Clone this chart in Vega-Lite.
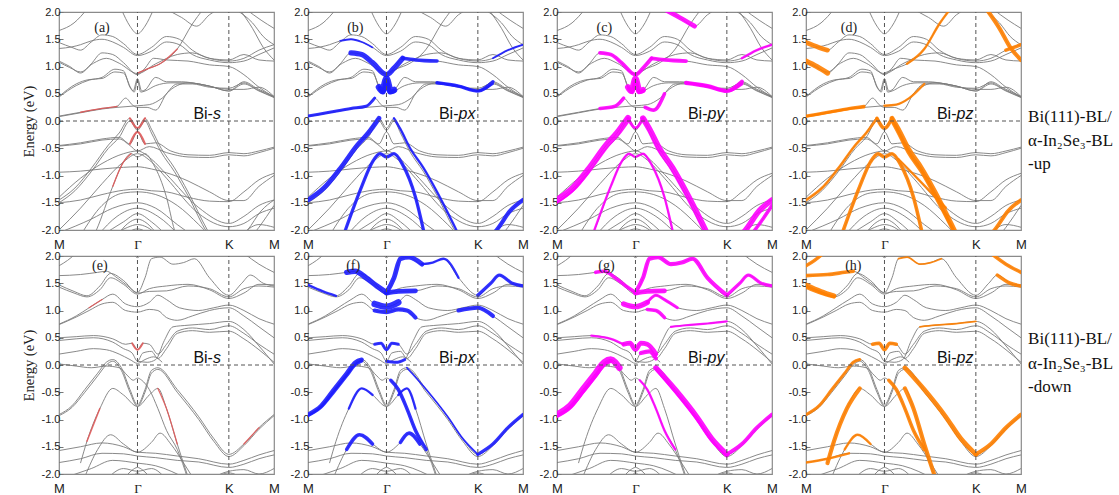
{
"$schema":"https://vega.github.io/schema/vega-lite/v6.json",
"background":"white",
"padding":{"left":20,"top":5,"right":0,"bottom":0},
"config":{
 "view":{"stroke":"#8a8a8a","strokeWidth":1.2},
 "axisX":{"title":null,"grid":false,"ticks":false,"domain":false,"labelFlush":false,"labelOverlap":false,"labelFont":{"condition":{"test":"datum.value==0.365","value":"Liberation Serif"},"value":"Liberation Sans"},"labelFontSize":13,"labelColor":"#222","labelPadding":8},
 "axisY":{"grid":false,"domain":false,"tickSize":-4,"tickColor":"#777","labelOverlap":false,"tickCount":9,"labelFont":"Liberation Sans","labelFontSize":11,"labelColor":"#222","labelPadding":3,"labelExpr":"replace(datum.label,'−','-')","titleFont":"Liberation Serif","titleFontSize":14.5,"titleFontWeight":"normal","titleColor":"#222","titlePadding":5}
},
"datasets":{
"G":[{"k":0.365},{"k":0.79}],
"U":[
{"b":"c1","k":0.29,"E":2.05},{"b":"c1","k":0.33,"E":1.74},{"b":"c1","k":0.365,"E":1.6},{"b":"c1","k":0.4,"E":1.74},{"b":"c1","k":0.44,"E":2.05},
{"b":"c2","k":0,"E":1.66},{"b":"c2","k":0.07,"E":1.8},{"b":"c2","k":0.13,"E":2.05},
{"b":"c3","k":0,"E":1.44},{"b":"c3","k":0.06,"E":1.35},{"b":"c3","k":0.1,"E":1.3},{"b":"c3","k":0.15,"E":1.45},{"b":"c3","k":0.2,"E":1.58},{"b":"c3","k":0.25,"E":1.55},{"b":"c3","k":0.3,"E":1.42},{"b":"c3","k":0.365,"E":1.22},{"b":"c3","k":0.43,"E":1.35},{"b":"c3","k":0.5,"E":1.55},{"b":"c3","k":0.56,"E":1.5},{"b":"c3","k":0.62,"E":1.3},{"b":"c3","k":0.7,"E":1.15},{"b":"c3","k":0.79,"E":1.1},{"b":"c3","k":0.86,"E":1.15},{"b":"c3","k":0.93,"E":1.3},{"b":"c3","k":1,"E":1.4},
{"b":"c4","k":0,"E":1.33},{"b":"c4","k":0.06,"E":1.36},{"b":"c4","k":0.1,"E":1.4},{"b":"c4","k":0.15,"E":1.47},{"b":"c4","k":0.2,"E":1.5},{"b":"c4","k":0.25,"E":1.45},{"b":"c4","k":0.3,"E":1.35},{"b":"c4","k":0.365,"E":1.2},{"b":"c4","k":0.43,"E":1.28},{"b":"c4","k":0.5,"E":1.45},{"b":"c4","k":0.56,"E":1.4},{"b":"c4","k":0.62,"E":1.22},{"b":"c4","k":0.7,"E":1.12},{"b":"c4","k":0.79,"E":1.07},{"b":"c4","k":0.86,"E":1.1},{"b":"c4","k":0.93,"E":1.22},{"b":"c4","k":1,"E":1.34},
{"b":"c5","k":0,"E":1.1},{"b":"c5","k":0.05,"E":1.0},{"b":"c5","k":0.1,"E":0.88},{"b":"c5","k":0.15,"E":1.05},{"b":"c5","k":0.2,"E":1.25},{"b":"c5","k":0.25,"E":1.22},{"b":"c5","k":0.3,"E":1.07},{"b":"c5","k":0.365,"E":0.85},{"b":"c5","k":0.4,"E":0.97},{"b":"c5","k":0.44,"E":1.15},{"b":"c5","k":0.5,"E":1.12},{"b":"c5","k":0.6,"E":1.1},{"b":"c5","k":0.7,"E":1.03},{"b":"c5","k":0.79,"E":1.0},{"b":"c5","k":0.86,"E":0.85},{"b":"c5","k":0.93,"E":0.62},{"b":"c5","k":1,"E":0.44},
{"b":"c6","k":0,"E":1.08},{"b":"c6","k":0.05,"E":0.98},{"b":"c6","k":0.1,"E":0.9},{"b":"c6","k":0.16,"E":1.06},{"b":"c6","k":0.22,"E":1.15},{"b":"c6","k":0.28,"E":1.06},{"b":"c6","k":0.365,"E":0.87},{"b":"c6","k":0.45,"E":1.05},{"b":"c6","k":0.55,"E":1.22},{"b":"c6","k":0.62,"E":1.25},{"b":"c6","k":0.7,"E":1.15},{"b":"c6","k":0.79,"E":1.12},{"b":"c6","k":0.86,"E":1.22},{"b":"c6","k":0.93,"E":1.12},{"b":"c6","k":1,"E":1.1},
{"b":"c7","k":0.365,"E":0.88},{"b":"c7","k":0.42,"E":0.97},{"b":"c7","k":0.47,"E":1.05},{"b":"c7","k":0.55,"E":1.32},{"b":"c7","k":0.62,"E":1.78},{"b":"c7","k":0.67,"E":2.05},
{"b":"c8","k":0.5,"E":2.05},{"b":"c8","k":0.57,"E":1.9},{"b":"c8","k":0.64,"E":1.74},{"b":"c8","k":0.7,"E":1.95},{"b":"c8","k":0.74,"E":2.05},
{"b":"c9","k":0,"E":0.44},{"b":"c9","k":0.08,"E":0.65},{"b":"c9","k":0.14,"E":0.75},{"b":"c9","k":0.2,"E":0.8},{"b":"c9","k":0.26,"E":0.95},{"b":"c9","k":0.3,"E":0.92},{"b":"c9","k":0.33,"E":0.62},{"b":"c9","k":0.345,"E":0.55},{"b":"c9","k":0.365,"E":0.78},{"b":"c9","k":0.385,"E":0.55},{"b":"c9","k":0.4,"E":0.57},{"b":"c9","k":0.45,"E":0.8},{"b":"c9","k":0.5,"E":0.72},{"b":"c9","k":0.57,"E":0.72},{"b":"c9","k":0.65,"E":0.68},{"b":"c9","k":0.79,"E":0.58},{"b":"c9","k":0.86,"E":0.58},{"b":"c9","k":0.93,"E":0.62},{"b":"c9","k":1,"E":0.45},
{"b":"c10","k":0,"E":0.45},{"b":"c10","k":0.08,"E":0.68},{"b":"c10","k":0.14,"E":0.76},{"b":"c10","k":0.2,"E":0.78},{"b":"c10","k":0.26,"E":0.9},{"b":"c10","k":0.3,"E":0.88},{"b":"c10","k":0.335,"E":0.6},{"b":"c10","k":0.35,"E":0.53},{"b":"c10","k":0.365,"E":0.75},{"b":"c10","k":0.38,"E":0.53},{"b":"c10","k":0.4,"E":0.55},{"b":"c10","k":0.45,"E":0.65},{"b":"c10","k":0.52,"E":0.7},{"b":"c10","k":0.6,"E":0.7},{"b":"c10","k":0.7,"E":0.64},{"b":"c10","k":0.79,"E":0.55},{"b":"c10","k":0.86,"E":0.68},{"b":"c10","k":0.93,"E":0.55},{"b":"c10","k":1,"E":0.43},
{"b":"c11","k":0,"E":0.09},{"b":"c11","k":0.1,"E":0.16},{"b":"c11","k":0.2,"E":0.23},{"b":"c11","k":0.27,"E":0.27},{"b":"c11","k":0.31,"E":0.42},{"b":"c11","k":0.34,"E":0.3},{"b":"c11","k":0.365,"E":0.25},{"b":"c11","k":0.41,"E":0.25},{"b":"c11","k":0.45,"E":0.2},{"b":"c11","k":0.5,"E":0.5},{"b":"c11","k":0.55,"E":0.65},{"b":"c11","k":0.6,"E":0.7},{"b":"c11","k":0.7,"E":0.64},{"b":"c11","k":0.79,"E":0.55},{"b":"c11","k":0.86,"E":0.72},{"b":"c11","k":0.92,"E":0.6},{"b":"c11","k":1,"E":0.45},
{"b":"c12","k":0,"E":0.08},{"b":"c12","k":0.1,"E":0.15},{"b":"c12","k":0.2,"E":0.22},{"b":"c12","k":0.27,"E":0.25},{"b":"c12","k":0.365,"E":0.28},{"b":"c12","k":0.42,"E":0.3},{"b":"c12","k":0.48,"E":0.42},{"b":"c12","k":0.55,"E":0.68},{"b":"c12","k":0.62,"E":0.68},{"b":"c12","k":0.7,"E":0.62},{"b":"c12","k":0.79,"E":0.6},{"b":"c12","k":0.86,"E":0.7},{"b":"c12","k":0.92,"E":0.58},{"b":"c12","k":1,"E":0.44},
{"b":"c13","k":0.82,"E":2.05},{"b":"c13","k":0.9,"E":1.8},{"b":"c13","k":0.95,"E":1.55},{"b":"c13","k":1,"E":1.4},
{"b":"c14","k":0.84,"E":2.05},{"b":"c14","k":0.9,"E":1.7},{"b":"c14","k":0.95,"E":1.35},{"b":"c14","k":1,"E":1.12},
{"b":"c15","k":0.87,"E":2.05},{"b":"c15","k":0.94,"E":1.85},{"b":"c15","k":1,"E":1.7},
{"b":"v1","k":0,"E":-1.45},{"b":"v1","k":0.074,"E":-1.23},{"b":"v1","k":0.15,"E":-0.87},{"b":"v1","k":0.23,"E":-0.44},{"b":"v1","k":0.28,"E":-0.22},{"b":"v1","k":0.33,"E":0.05},{"b":"v1","k":0.365,"E":-0.13},{"b":"v1","k":0.4,"E":0.05},{"b":"v1","k":0.43,"E":-0.15},{"b":"v1","k":0.475,"E":-0.5},{"b":"v1","k":0.537,"E":-0.86},{"b":"v1","k":0.6,"E":-1.3},{"b":"v1","k":0.69,"E":-2.0},{"b":"v1","k":0.72,"E":-2.2},
{"b":"v1b","k":0,"E":-1.5},{"b":"v1b","k":0.074,"E":-1.28},{"b":"v1b","k":0.15,"E":-0.93},{"b":"v1b","k":0.23,"E":-0.5},{"b":"v1b","k":0.28,"E":-0.3},{"b":"v1b","k":0.33,"E":0.0},{"b":"v1b","k":0.365,"E":-0.17},{"b":"v1b","k":0.4,"E":0.0},{"b":"v1b","k":0.43,"E":-0.22},{"b":"v1b","k":0.475,"E":-0.57},{"b":"v1b","k":0.537,"E":-0.93},{"b":"v1b","k":0.6,"E":-1.37},{"b":"v1b","k":0.69,"E":-2.05},{"b":"v1b","k":0.72,"E":-2.2},
{"b":"v2","k":0,"E":-0.45},{"b":"v2","k":0.1,"E":-0.4},{"b":"v2","k":0.2,"E":-0.33},{"b":"v2","k":0.28,"E":-0.3},{"b":"v2","k":0.33,"E":-0.42},{"b":"v2","k":0.365,"E":-0.2},{"b":"v2","k":0.4,"E":-0.42},{"b":"v2","k":0.45,"E":-0.4},{"b":"v2","k":0.52,"E":-0.55},{"b":"v2","k":0.6,"E":-0.62},{"b":"v2","k":0.7,"E":-0.63},{"b":"v2","k":0.79,"E":-0.58},{"b":"v2","k":0.86,"E":-0.6},{"b":"v2","k":0.93,"E":-0.55},{"b":"v2","k":1,"E":-0.48},
{"b":"v3","k":0,"E":-0.46},{"b":"v3","k":0.1,"E":-0.42},{"b":"v3","k":0.2,"E":-0.35},{"b":"v3","k":0.28,"E":-0.33},{"b":"v3","k":0.33,"E":-0.45},{"b":"v3","k":0.365,"E":-0.55},{"b":"v3","k":0.42,"E":-0.47},{"b":"v3","k":0.5,"E":-0.58},{"b":"v3","k":0.6,"E":-0.66},{"b":"v3","k":0.7,"E":-0.67},{"b":"v3","k":0.79,"E":-0.62},{"b":"v3","k":0.86,"E":-0.64},{"b":"v3","k":0.93,"E":-0.58},{"b":"v3","k":1,"E":-0.5},
{"b":"v4","k":0,"E":-1.4},{"b":"v4","k":0.1,"E":-1.05},{"b":"v4","k":0.2,"E":-0.78},{"b":"v4","k":0.3,"E":-0.6},{"b":"v4","k":0.365,"E":-0.55},{"b":"v4","k":0.43,"E":-0.7},{"b":"v4","k":0.5,"E":-0.98},{"b":"v4","k":0.65,"E":-1.59},{"b":"v4","k":0.79,"E":-1.88},{"b":"v4","k":0.86,"E":-1.75},{"b":"v4","k":0.93,"E":-1.55},{"b":"v4","k":1,"E":-1.45},
{"b":"v5","k":0,"E":-2.0},{"b":"v5","k":0.1,"E":-1.6},{"b":"v5","k":0.2,"E":-1.15},{"b":"v5","k":0.3,"E":-0.75},{"b":"v5","k":0.365,"E":-0.6},{"b":"v5","k":0.43,"E":-0.75},{"b":"v5","k":0.5,"E":-1.05},{"b":"v5","k":0.65,"E":-1.7},{"b":"v5","k":0.79,"E":-1.94},{"b":"v5","k":0.86,"E":-1.88},{"b":"v5","k":0.93,"E":-1.7},{"b":"v5","k":1,"E":-1.6},
{"b":"v6","k":0,"E":-0.94},{"b":"v6","k":0.1,"E":-0.92},{"b":"v6","k":0.2,"E":-0.88},{"b":"v6","k":0.3,"E":-0.85},{"b":"v6","k":0.365,"E":-0.84},{"b":"v6","k":0.43,"E":-0.88},{"b":"v6","k":0.5,"E":-0.95},{"b":"v6","k":0.6,"E":-1.1},{"b":"v6","k":0.7,"E":-1.3},{"b":"v6","k":0.79,"E":-1.46},{"b":"v6","k":0.86,"E":-1.46},{"b":"v6","k":0.93,"E":-1.2},{"b":"v6","k":1,"E":-1.0},
{"b":"v7","k":0,"E":-1.5},{"b":"v7","k":0.1,"E":-1.45},{"b":"v7","k":0.2,"E":-1.35},{"b":"v7","k":0.3,"E":-1.27},{"b":"v7","k":0.365,"E":-1.25},{"b":"v7","k":0.43,"E":-1.28},{"b":"v7","k":0.5,"E":-1.3},{"b":"v7","k":0.6,"E":-1.4},{"b":"v7","k":0.7,"E":-1.47},{"b":"v7","k":0.79,"E":-1.48},{"b":"v7","k":0.86,"E":-1.3},{"b":"v7","k":0.93,"E":-1.08},{"b":"v7","k":1,"E":-0.96},
{"b":"v8","k":0,"E":-2.05},{"b":"v8","k":0.15,"E":-1.8},{"b":"v8","k":0.25,"E":-1.6},{"b":"v8","k":0.365,"E":-1.5},{"b":"v8","k":0.45,"E":-1.6},{"b":"v8","k":0.55,"E":-1.9},{"b":"v8","k":0.62,"E":-2.1},
{"b":"v9","k":0.2,"E":-2.1},{"b":"v9","k":0.3,"E":-1.85},{"b":"v9","k":0.365,"E":-1.7},{"b":"v9","k":0.43,"E":-1.85},{"b":"v9","k":0.5,"E":-2.1},
{"b":"v10","k":0.25,"E":-2.1},{"b":"v10","k":0.32,"E":-1.95},{"b":"v10","k":0.365,"E":-1.9},{"b":"v10","k":0.41,"E":-1.95},{"b":"v10","k":0.46,"E":-2.1},
{"b":"v11","k":0.1,"E":-2.1},{"b":"v11","k":0.2,"E":-1.55},{"b":"v11","k":0.3,"E":-1.32},{"b":"v11","k":0.365,"E":-1.3},{"b":"v11","k":0.45,"E":-1.35},{"b":"v11","k":0.55,"E":-1.55},{"b":"v11","k":0.65,"E":-1.9},{"b":"v11","k":0.7,"E":-2.1},
{"b":"v12","k":0.15,"E":-2.2},{"b":"v12","k":0.174,"E":-2.0},{"b":"v12","k":0.25,"E":-1.2},{"b":"v12","k":0.3,"E":-0.75},{"b":"v12","k":0.335,"E":-0.6},{"b":"v12","k":0.365,"E":-0.66},{"b":"v12","k":0.4,"E":-0.6},{"b":"v12","k":0.44,"E":-0.8},{"b":"v12","k":0.5,"E":-1.4},{"b":"v12","k":0.537,"E":-2.0},{"b":"v12","k":0.55,"E":-2.15},
{"b":"v13","k":0.82,"E":-2.2},{"b":"v13","k":0.877,"E":-2.0},{"b":"v13","k":0.94,"E":-1.65},{"b":"v13","k":1,"E":-1.45},
{"b":"v14","k":0.88,"E":-2.2},{"b":"v14","k":0.93,"E":-1.95},{"b":"v14","k":1,"E":-1.55},
{"b":"v15","k":0.86,"E":-2.05},{"b":"v15","k":0.93,"E":-1.9},{"b":"v15","k":1,"E":-1.95},
{"b":"v16","k":0.27,"E":-2.1},{"b":"v16","k":0.32,"E":-1.88},{"b":"v16","k":0.365,"E":-1.8},{"b":"v16","k":0.41,"E":-1.88},{"b":"v16","k":0.46,"E":-2.1},
{"b":"v17","k":0.3,"E":-2.1},{"b":"v17","k":0.365,"E":-1.98},{"b":"v17","k":0.43,"E":-2.1},
{"b":"v18","k":0.18,"E":-2.1},{"b":"v18","k":0.27,"E":-1.75},{"b":"v18","k":0.365,"E":-1.6},{"b":"v18","k":0.46,"E":-1.75},{"b":"v18","k":0.56,"E":-2.1}
],
"D":[
{"b":"dc0","k":0.34,"E":2.08},{"b":"dc0","k":0.365,"E":1.97},{"b":"dc0","k":0.39,"E":2.08},
{"b":"dc1","k":0,"E":1.82},{"b":"dc1","k":0.04,"E":1.92},{"b":"dc1","k":0.08,"E":2.05},
{"b":"dc2","k":0,"E":1.64},{"b":"dc2","k":0.1,"E":1.66},{"b":"dc2","k":0.18,"E":1.7},{"b":"dc2","k":0.22,"E":1.72},{"b":"dc2","k":0.27,"E":1.6},{"b":"dc2","k":0.32,"E":1.45},{"b":"dc2","k":0.365,"E":1.33},{"b":"dc2","k":0.4,"E":1.6},{"b":"dc2","k":0.43,"E":1.95},{"b":"dc2","k":0.47,"E":1.98},{"b":"dc2","k":0.53,"E":1.85},{"b":"dc2","k":0.58,"E":1.88},{"b":"dc2","k":0.63,"E":1.95},{"b":"dc2","k":0.7,"E":1.6},{"b":"dc2","k":0.79,"E":1.28},{"b":"dc2","k":0.85,"E":1.5},{"b":"dc2","k":0.89,"E":1.65},{"b":"dc2","k":0.95,"E":1.5},{"b":"dc2","k":1,"E":1.45},
{"b":"dc3","k":0,"E":1.47},{"b":"dc3","k":0.07,"E":1.35},{"b":"dc3","k":0.13,"E":1.27},{"b":"dc3","k":0.19,"E":1.45},{"b":"dc3","k":0.24,"E":1.68},{"b":"dc3","k":0.3,"E":1.55},{"b":"dc3","k":0.365,"E":1.32},{"b":"dc3","k":0.42,"E":1.35},{"b":"dc3","k":0.5,"E":1.36},{"b":"dc3","k":0.6,"E":1.45},{"b":"dc3","k":0.7,"E":1.4},{"b":"dc3","k":0.79,"E":1.25},{"b":"dc3","k":0.86,"E":1.4},{"b":"dc3","k":0.93,"E":1.45},{"b":"dc3","k":1,"E":1.43},
{"b":"dc4","k":0,"E":1.43},{"b":"dc4","k":0.07,"E":1.32},{"b":"dc4","k":0.13,"E":1.25},{"b":"dc4","k":0.19,"E":1.38},{"b":"dc4","k":0.24,"E":1.6},{"b":"dc4","k":0.3,"E":1.48},{"b":"dc4","k":0.365,"E":1.3},{"b":"dc4","k":0.42,"E":1.4},{"b":"dc4","k":0.5,"E":1.45},{"b":"dc4","k":0.6,"E":1.48},{"b":"dc4","k":0.7,"E":1.38},{"b":"dc4","k":0.79,"E":1.22},{"b":"dc4","k":0.86,"E":1.32},{"b":"dc4","k":0.93,"E":1.48},{"b":"dc4","k":1,"E":1.47},
{"b":"dc5","k":0,"E":0.75},{"b":"dc5","k":0.08,"E":0.9},{"b":"dc5","k":0.14,"E":1.05},{"b":"dc5","k":0.2,"E":1.2},{"b":"dc5","k":0.25,"E":1.3},{"b":"dc5","k":0.31,"E":1.12},{"b":"dc5","k":0.365,"E":1.07},{"b":"dc5","k":0.42,"E":1.15},{"b":"dc5","k":0.46,"E":1.28},{"b":"dc5","k":0.5,"E":1.2},{"b":"dc5","k":0.56,"E":1.05},{"b":"dc5","k":0.65,"E":1.0},{"b":"dc5","k":0.72,"E":1.05},{"b":"dc5","k":0.79,"E":1.1},{"b":"dc5","k":0.86,"E":1.0},{"b":"dc5","k":0.93,"E":0.85},{"b":"dc5","k":1,"E":0.75},
{"b":"dc6","k":0,"E":0.74},{"b":"dc6","k":0.08,"E":0.88},{"b":"dc6","k":0.14,"E":1.0},{"b":"dc6","k":0.2,"E":1.12},{"b":"dc6","k":0.25,"E":1.15},{"b":"dc6","k":0.31,"E":1.0},{"b":"dc6","k":0.365,"E":0.97},{"b":"dc6","k":0.42,"E":1.02},{"b":"dc6","k":0.46,"E":1.0},{"b":"dc6","k":0.5,"E":0.87},{"b":"dc6","k":0.55,"E":0.82},{"b":"dc6","k":0.62,"E":0.9},{"b":"dc6","k":0.7,"E":1.0},{"b":"dc6","k":0.79,"E":1.05},{"b":"dc6","k":0.86,"E":0.9},{"b":"dc6","k":0.93,"E":0.7},{"b":"dc6","k":1,"E":0.5},
{"b":"dc7","k":0.365,"E":0.07},{"b":"dc7","k":0.41,"E":0.05},{"b":"dc7","k":0.45,"E":0.1},{"b":"dc7","k":0.49,"E":0.45},{"b":"dc7","k":0.53,"E":0.7},{"b":"dc7","k":0.6,"E":0.73},{"b":"dc7","k":0.7,"E":0.76},{"b":"dc7","k":0.79,"E":0.8},{"b":"dc7","k":0.86,"E":0.65},{"b":"dc7","k":0.93,"E":0.35},{"b":"dc7","k":1,"E":0.02},
{"b":"dc8","k":0,"E":0.5},{"b":"dc8","k":0.08,"E":0.52},{"b":"dc8","k":0.16,"E":0.54},{"b":"dc8","k":0.25,"E":0.48},{"b":"dc8","k":0.31,"E":0.38},{"b":"dc8","k":0.34,"E":0.4},{"b":"dc8","k":0.365,"E":0.28},{"b":"dc8","k":0.39,"E":0.4},{"b":"dc8","k":0.42,"E":0.38},{"b":"dc8","k":0.46,"E":0.2},{"b":"dc8","k":0.5,"E":0.38},{"b":"dc8","k":0.55,"E":0.62},{"b":"dc8","k":0.62,"E":0.68},{"b":"dc8","k":0.7,"E":0.65},{"b":"dc8","k":0.79,"E":0.72},{"b":"dc8","k":0.86,"E":0.58},{"b":"dc8","k":0.93,"E":0.38},{"b":"dc8","k":1,"E":0.2},
{"b":"dc9","k":0,"E":0.45},{"b":"dc9","k":0.08,"E":0.48},{"b":"dc9","k":0.16,"E":0.5},{"b":"dc9","k":0.25,"E":0.42},{"b":"dc9","k":0.3,"E":0.3},{"b":"dc9","k":0.34,"E":0.22},{"b":"dc9","k":0.365,"E":0.07},{"b":"dc9","k":0.39,"E":0.22},{"b":"dc9","k":0.43,"E":0.25},{"b":"dc9","k":0.46,"E":0.12},{"b":"dc9","k":0.5,"E":0.3},{"b":"dc9","k":0.55,"E":0.58},{"b":"dc9","k":0.62,"E":0.63},{"b":"dc9","k":0.7,"E":0.6},{"b":"dc9","k":0.79,"E":0.62},{"b":"dc9","k":0.86,"E":0.48},{"b":"dc9","k":0.93,"E":0.28},{"b":"dc9","k":1,"E":0.05},
{"b":"dc10","k":0,"E":0.2},{"b":"dc10","k":0.08,"E":0.25},{"b":"dc10","k":0.16,"E":0.3},{"b":"dc10","k":0.22,"E":0.28},{"b":"dc10","k":0.28,"E":0.2},{"b":"dc10","k":0.33,"E":0.1},{"b":"dc10","k":0.365,"E":0.03},{"b":"dc10","k":0.4,"E":0.1},{"b":"dc10","k":0.44,"E":0.15},{"b":"dc10","k":0.48,"E":0.05},
{"b":"dc12","k":0.86,"E":2.05},{"b":"dc12","k":0.93,"E":1.85},{"b":"dc12","k":1,"E":1.7},
{"b":"dv1","k":0,"E":-0.91},{"b":"dv1","k":0.06,"E":-0.75},{"b":"dv1","k":0.12,"E":-0.45},{"b":"dv1","k":0.18,"E":-0.15},{"b":"dv1","k":0.22,"E":0.05},{"b":"dv1","k":0.25,"E":0.1},{"b":"dv1","k":0.29,"E":-0.05},{"b":"dv1","k":0.33,"E":-0.45},{"b":"dv1","k":0.365,"E":-0.73},{"b":"dv1","k":0.4,"E":-0.45},{"b":"dv1","k":0.43,"E":-0.1},{"b":"dv1","k":0.46,"E":-0.05},{"b":"dv1","k":0.55,"E":-0.45},{"b":"dv1","k":0.65,"E":-0.95},{"b":"dv1","k":0.72,"E":-1.35},{"b":"dv1","k":0.79,"E":-1.64},{"b":"dv1","k":0.86,"E":-1.45},{"b":"dv1","k":0.93,"E":-1.15},{"b":"dv1","k":1,"E":-0.91},
{"b":"dv2","k":0,"E":-0.93},{"b":"dv2","k":0.06,"E":-0.78},{"b":"dv2","k":0.12,"E":-0.5},{"b":"dv2","k":0.18,"E":-0.2},{"b":"dv2","k":0.22,"E":0.0},{"b":"dv2","k":0.25,"E":0.07},{"b":"dv2","k":0.29,"E":-0.1},{"b":"dv2","k":0.33,"E":-0.5},{"b":"dv2","k":0.365,"E":-0.76},{"b":"dv2","k":0.4,"E":-0.5},{"b":"dv2","k":0.43,"E":-0.15},{"b":"dv2","k":0.46,"E":-0.08},{"b":"dv2","k":0.55,"E":-0.5},{"b":"dv2","k":0.65,"E":-1.0},{"b":"dv2","k":0.72,"E":-1.4},{"b":"dv2","k":0.79,"E":-1.68},{"b":"dv2","k":0.86,"E":-1.48},{"b":"dv2","k":0.93,"E":-1.18},{"b":"dv2","k":1,"E":-0.93},
{"b":"dv3","k":0,"E":0.02},{"b":"dv3","k":0.08,"E":-0.02},{"b":"dv3","k":0.15,"E":-0.05},{"b":"dv3","k":0.22,"E":-0.02},{"b":"dv3","k":0.28,"E":-0.05},{"b":"dv3","k":0.32,"E":-0.2},{"b":"dv3","k":0.345,"E":-0.28},{"b":"dv3","k":0.365,"E":-0.24},{"b":"dv3","k":0.385,"E":-0.28},{"b":"dv3","k":0.42,"E":-0.45},{"b":"dv3","k":0.46,"E":-0.8},{"b":"dv3","k":0.5,"E":-1.2},{"b":"dv3","k":0.55,"E":-1.55},{"b":"dv3","k":0.6,"E":-2.1},
{"b":"dv5","k":0.1,"E":-1.8},{"b":"dv5","k":0.13,"E":-1.4},{"b":"dv5","k":0.19,"E":-0.8},{"b":"dv5","k":0.25,"E":-0.43},{"b":"dv5","k":0.3,"E":-0.55},{"b":"dv5","k":0.365,"E":-0.76},{"b":"dv5","k":0.42,"E":-0.55},{"b":"dv5","k":0.46,"E":-0.43},{"b":"dv5","k":0.5,"E":-0.8},{"b":"dv5","k":0.55,"E":-1.45},{"b":"dv5","k":0.6,"E":-2.05},
{"b":"dv6","k":0.12,"E":-2.05},{"b":"dv6","k":0.18,"E":-1.55},{"b":"dv6","k":0.24,"E":-1.28},{"b":"dv6","k":0.3,"E":-1.45},{"b":"dv6","k":0.365,"E":-1.6},{"b":"dv6","k":0.43,"E":-1.42},{"b":"dv6","k":0.47,"E":-1.25},{"b":"dv6","k":0.52,"E":-1.45},{"b":"dv6","k":0.58,"E":-1.8},{"b":"dv6","k":0.62,"E":-2.05},
{"b":"dv7","k":0,"E":-1.57},{"b":"dv7","k":0.1,"E":-1.5},{"b":"dv7","k":0.2,"E":-1.43},{"b":"dv7","k":0.3,"E":-1.5},{"b":"dv7","k":0.365,"E":-1.6},{"b":"dv7","k":0.45,"E":-1.62},{"b":"dv7","k":0.55,"E":-1.67},{"b":"dv7","k":0.65,"E":-1.72},{"b":"dv7","k":0.79,"E":-1.82},{"b":"dv7","k":0.86,"E":-1.75},{"b":"dv7","k":0.93,"E":-1.65},{"b":"dv7","k":1,"E":-1.57},
{"b":"dv8","k":0,"E":-1.79},{"b":"dv8","k":0.1,"E":-1.72},{"b":"dv8","k":0.2,"E":-1.62},{"b":"dv8","k":0.3,"E":-1.63},{"b":"dv8","k":0.365,"E":-1.67},{"b":"dv8","k":0.45,"E":-1.7},{"b":"dv8","k":0.55,"E":-1.75},{"b":"dv8","k":0.65,"E":-1.78},{"b":"dv8","k":0.79,"E":-1.88},{"b":"dv8","k":0.86,"E":-1.82},{"b":"dv8","k":0.93,"E":-1.72},{"b":"dv8","k":1,"E":-1.65},
{"b":"dv9","k":0,"E":-2.1},{"b":"dv9","k":0.15,"E":-1.9},{"b":"dv9","k":0.25,"E":-1.75},{"b":"dv9","k":0.365,"E":-1.8},{"b":"dv9","k":0.45,"E":-1.85},{"b":"dv9","k":0.6,"E":-2.1},
{"b":"dv10","k":0.22,"E":-2.1},{"b":"dv10","k":0.3,"E":-1.9},{"b":"dv10","k":0.365,"E":-1.95},{"b":"dv10","k":0.43,"E":-1.9},{"b":"dv10","k":0.5,"E":-2.1},
{"b":"dv11","k":0.7,"E":-2.1},{"b":"dv11","k":0.79,"E":-1.95},{"b":"dv11","k":0.86,"E":-1.92},{"b":"dv11","k":0.93,"E":-2.0},{"b":"dv11","k":1,"E":-1.9},
{"b":"dv12","k":0.72,"E":-2.1},{"b":"dv12","k":0.79,"E":-1.98},{"b":"dv12","k":0.86,"E":-2.1},
{"b":"dv13","k":0.3,"E":-2.1},{"b":"dv13","k":0.34,"E":-1.93},{"b":"dv13","k":0.365,"E":-1.88},{"b":"dv13","k":0.39,"E":-1.93},{"b":"dv13","k":0.43,"E":-2.1},
{"b":"dv14","k":0.345,"E":-2.1},{"b":"dv14","k":0.365,"E":-1.97},{"b":"dv14","k":0.385,"E":-2.1}
],
"PU":[
{"o":"s","g":"s1","w":0.25,"k":0.33,"E":0.05},{"o":"s","g":"s1","w":0.25,"k":0.365,"E":-0.13},{"o":"s","g":"s1","w":0.25,"k":0.4,"E":0.05},
{"o":"s","g":"s2","w":0.25,"k":0.33,"E":-0.42},{"o":"s","g":"s2","w":0.25,"k":0.365,"E":-0.2},{"o":"s","g":"s2","w":0.25,"k":0.4,"E":-0.42},
{"o":"s","g":"s3","w":0.12,"k":0.365,"E":0.88},{"o":"s","g":"s3","w":0.12,"k":0.42,"E":0.97},{"o":"s","g":"s3","w":0.12,"k":0.47,"E":1.05},{"o":"s","g":"s3","w":0.12,"k":0.55,"E":1.32},
{"o":"s","g":"s4","w":0.12,"k":0.1,"E":0.16},{"o":"s","g":"s4","w":0.12,"k":0.2,"E":0.23},{"o":"s","g":"s4","w":0.12,"k":0.27,"E":0.27},
{"o":"s","g":"s5","w":0.12,"k":0.25,"E":-1.2},{"o":"s","g":"s5","w":0.12,"k":0.3,"E":-0.75},{"o":"s","g":"s5","w":0.12,"k":0.335,"E":-0.6},
{"o":"x","g":"x1","w":0.8,"k":0.2,"E":1.25},{"o":"x","g":"x1","w":0.8,"k":0.25,"E":1.22},{"o":"x","g":"x1","w":0.8,"k":0.3,"E":1.07},{"o":"x","g":"x1","w":0.8,"k":0.365,"E":0.85},{"o":"x","g":"x1","w":0.8,"k":0.4,"E":0.97},{"o":"x","g":"x1","w":0.8,"k":0.44,"E":1.15},
{"o":"x","g":"x2","w":1,"k":0.33,"E":0.62},{"o":"x","g":"x2","w":1,"k":0.345,"E":0.55},{"o":"x","g":"x2","w":1,"k":0.365,"E":0.78},{"o":"x","g":"x2","w":1,"k":0.385,"E":0.55},{"o":"x","g":"x2","w":1,"k":0.4,"E":0.57},
{"o":"x","g":"x3","w":0.7,"k":0.335,"E":0.6},{"o":"x","g":"x3","w":0.7,"k":0.35,"E":0.53},{"o":"x","g":"x3","w":0.7,"k":0.365,"E":0.75},{"o":"x","g":"x3","w":0.7,"k":0.38,"E":0.53},{"o":"x","g":"x3","w":0.7,"k":0.4,"E":0.55},
{"o":"x","g":"x4","w":0.4,"k":0,"E":0.09},{"o":"x","g":"x4","w":0.4,"k":0.1,"E":0.16},{"o":"x","g":"x4","w":0.4,"k":0.2,"E":0.23},{"o":"x","g":"x4","w":0.4,"k":0.27,"E":0.27},{"o":"x","g":"x4","w":0.4,"k":0.31,"E":0.42},
{"o":"x","g":"x5","w":0.7,"k":0,"E":-1.45},{"o":"x","g":"x5","w":0.7,"k":0.074,"E":-1.23},{"o":"x","g":"x5","w":0.7,"k":0.15,"E":-0.87},{"o":"x","g":"x5","w":0.7,"k":0.23,"E":-0.44},{"o":"x","g":"x5","w":0.7,"k":0.28,"E":-0.22},{"o":"x","g":"x5","w":0.7,"k":0.33,"E":0.05},
{"o":"x","g":"x6","w":0.3,"k":0.4,"E":0.05},{"o":"x","g":"x6","w":0.3,"k":0.43,"E":-0.15},{"o":"x","g":"x6","w":0.3,"k":0.475,"E":-0.5},{"o":"x","g":"x6","w":0.3,"k":0.537,"E":-0.86},{"o":"x","g":"x6","w":0.3,"k":0.6,"E":-1.3},{"o":"x","g":"x6","w":0.3,"k":0.69,"E":-2.0},
{"o":"x","g":"x7","w":0.45,"k":0.174,"E":-2.0},{"o":"x","g":"x7","w":0.45,"k":0.25,"E":-1.2},{"o":"x","g":"x7","w":0.45,"k":0.3,"E":-0.75},{"o":"x","g":"x7","w":0.45,"k":0.335,"E":-0.6},{"o":"x","g":"x7","w":0.45,"k":0.365,"E":-0.66},{"o":"x","g":"x7","w":0.45,"k":0.4,"E":-0.6},{"o":"x","g":"x7","w":0.45,"k":0.44,"E":-0.8},{"o":"x","g":"x7","w":0.45,"k":0.5,"E":-1.4},{"o":"x","g":"x7","w":0.45,"k":0.537,"E":-2.0},
{"o":"x","g":"x8","w":0.5,"k":0.6,"E":0.7},{"o":"x","g":"x8","w":0.5,"k":0.7,"E":0.64},{"o":"x","g":"x8","w":0.5,"k":0.79,"E":0.55},{"o":"x","g":"x8","w":0.5,"k":0.86,"E":0.72},
{"o":"x","g":"x9","w":0.6,"k":0.82,"E":-2.2},{"o":"x","g":"x9","w":0.6,"k":0.877,"E":-2.0},{"o":"x","g":"x9","w":0.6,"k":0.94,"E":-1.65},{"o":"x","g":"x9","w":0.6,"k":1,"E":-1.45},
{"o":"x","g":"x10","w":0.2,"k":0.86,"E":1.15},{"o":"x","g":"x10","w":0.2,"k":0.93,"E":1.3},{"o":"x","g":"x10","w":0.2,"k":1,"E":1.4},
{"o":"x","g":"x11","w":0.5,"k":0.44,"E":1.15},{"o":"x","g":"x11","w":0.5,"k":0.5,"E":1.12},{"o":"x","g":"x11","w":0.5,"k":0.6,"E":1.1},
{"o":"x","g":"x12","w":0.2,"k":0.15,"E":1.47},{"o":"x","g":"x12","w":0.2,"k":0.2,"E":1.5},{"o":"x","g":"x12","w":0.2,"k":0.25,"E":1.45},{"o":"x","g":"x12","w":0.2,"k":0.3,"E":1.35},
{"o":"x","g":"x13","w":0.25,"k":0.6,"E":0.7},{"o":"x","g":"x13","w":0.25,"k":0.7,"E":0.64},{"o":"x","g":"x13","w":0.25,"k":0.79,"E":0.55},{"o":"x","g":"x13","w":0.25,"k":0.86,"E":0.68},
{"o":"y","g":"y1","w":1,"k":0,"E":-1.45},{"o":"y","g":"y1","w":1,"k":0.074,"E":-1.23},{"o":"y","g":"y1","w":1,"k":0.15,"E":-0.87},{"o":"y","g":"y1","w":1,"k":0.23,"E":-0.44},{"o":"y","g":"y1","w":1,"k":0.28,"E":-0.22},{"o":"y","g":"y1","w":1,"k":0.33,"E":0.05},
{"o":"y","g":"y1c","w":0.4,"k":0.33,"E":0.05},{"o":"y","g":"y1c","w":0.4,"k":0.365,"E":-0.13},{"o":"y","g":"y1c","w":0.4,"k":0.4,"E":0.05},
{"o":"y","g":"y1r","w":0.9,"k":0.4,"E":0.05},{"o":"y","g":"y1r","w":0.9,"k":0.43,"E":-0.15},{"o":"y","g":"y1r","w":0.9,"k":0.475,"E":-0.5},{"o":"y","g":"y1r","w":0.9,"k":0.537,"E":-0.86},{"o":"y","g":"y1r","w":0.9,"k":0.6,"E":-1.3},{"o":"y","g":"y1r","w":0.9,"k":0.69,"E":-2.0},
{"o":"y","g":"y2","w":0.25,"k":0,"E":-1.5},{"o":"y","g":"y2","w":0.25,"k":0.074,"E":-1.28},{"o":"y","g":"y2","w":0.25,"k":0.15,"E":-0.93},
{"o":"y","g":"y3","w":0.9,"k":0.33,"E":0.62},{"o":"y","g":"y3","w":0.9,"k":0.345,"E":0.55},{"o":"y","g":"y3","w":0.9,"k":0.365,"E":0.78},{"o":"y","g":"y3","w":0.9,"k":0.385,"E":0.55},{"o":"y","g":"y3","w":0.9,"k":0.4,"E":0.57},
{"o":"y","g":"y4","w":0.6,"k":0.335,"E":0.6},{"o":"y","g":"y4","w":0.6,"k":0.35,"E":0.53},{"o":"y","g":"y4","w":0.6,"k":0.365,"E":0.75},{"o":"y","g":"y4","w":0.6,"k":0.38,"E":0.53},{"o":"y","g":"y4","w":0.6,"k":0.4,"E":0.55},
{"o":"y","g":"y5","w":0.55,"k":0.2,"E":1.25},{"o":"y","g":"y5","w":0.55,"k":0.25,"E":1.22},{"o":"y","g":"y5","w":0.55,"k":0.3,"E":1.07},{"o":"y","g":"y5","w":0.55,"k":0.365,"E":0.85},{"o":"y","g":"y5","w":0.55,"k":0.4,"E":0.97},{"o":"y","g":"y5","w":0.55,"k":0.44,"E":1.15},
{"o":"y","g":"y6","w":0.6,"k":0.6,"E":0.7},{"o":"y","g":"y6","w":0.6,"k":0.7,"E":0.64},{"o":"y","g":"y6","w":0.6,"k":0.79,"E":0.55},{"o":"y","g":"y6","w":0.6,"k":0.86,"E":0.72},
{"o":"y","g":"y7","w":0.4,"k":0.6,"E":0.7},{"o":"y","g":"y7","w":0.4,"k":0.7,"E":0.64},{"o":"y","g":"y7","w":0.4,"k":0.79,"E":0.55},{"o":"y","g":"y7","w":0.4,"k":0.86,"E":0.68},
{"o":"y","g":"y8","w":0.85,"k":0.82,"E":-2.2},{"o":"y","g":"y8","w":0.85,"k":0.877,"E":-2.0},{"o":"y","g":"y8","w":0.85,"k":0.94,"E":-1.65},{"o":"y","g":"y8","w":0.85,"k":1,"E":-1.45},
{"o":"y","g":"y9","w":0.7,"k":0.5,"E":2.05},{"o":"y","g":"y9","w":0.7,"k":0.57,"E":1.9},{"o":"y","g":"y9","w":0.7,"k":0.64,"E":1.74},
{"o":"y","g":"y10","w":0.5,"k":0.2,"E":0.23},{"o":"y","g":"y10","w":0.5,"k":0.27,"E":0.27},{"o":"y","g":"y10","w":0.5,"k":0.31,"E":0.42},
{"o":"y","g":"y11","w":0.5,"k":0.41,"E":0.25},{"o":"y","g":"y11","w":0.5,"k":0.45,"E":0.2},{"o":"y","g":"y11","w":0.5,"k":0.5,"E":0.5},
{"o":"y","g":"y12","w":0.3,"k":0.174,"E":-2.0},{"o":"y","g":"y12","w":0.3,"k":0.25,"E":-1.2},{"o":"y","g":"y12","w":0.3,"k":0.3,"E":-0.75},{"o":"y","g":"y12","w":0.3,"k":0.335,"E":-0.6},{"o":"y","g":"y12","w":0.3,"k":0.365,"E":-0.66},{"o":"y","g":"y12","w":0.3,"k":0.4,"E":-0.6},{"o":"y","g":"y12","w":0.3,"k":0.44,"E":-0.8},{"o":"y","g":"y12","w":0.3,"k":0.5,"E":-1.4},{"o":"y","g":"y12","w":0.3,"k":0.537,"E":-2.0},
{"o":"y","g":"y13","w":0.55,"k":0.44,"E":1.15},{"o":"y","g":"y13","w":0.55,"k":0.5,"E":1.12},{"o":"y","g":"y13","w":0.55,"k":0.6,"E":1.1},
{"o":"y","g":"y14","w":0.3,"k":0.86,"E":1.15},{"o":"y","g":"y14","w":0.3,"k":0.93,"E":1.3},{"o":"y","g":"y14","w":0.3,"k":1,"E":1.4},
{"o":"y","g":"y15","w":0.5,"k":0.88,"E":-2.2},{"o":"y","g":"y15","w":0.5,"k":0.93,"E":-1.95},{"o":"y","g":"y15","w":0.5,"k":1,"E":-1.55},
{"o":"z","g":"z1","w":0.7,"k":0,"E":1.44},{"o":"z","g":"z1","w":0.7,"k":0.06,"E":1.35},{"o":"z","g":"z1","w":0.7,"k":0.1,"E":1.3},
{"o":"z","g":"z2","w":0.8,"k":0,"E":1.1},{"o":"z","g":"z2","w":0.8,"k":0.05,"E":1.0},{"o":"z","g":"z2","w":0.8,"k":0.1,"E":0.88},
{"o":"z","g":"z3","w":0.4,"k":0,"E":0.09},{"o":"z","g":"z3","w":0.4,"k":0.1,"E":0.16},{"o":"z","g":"z3","w":0.4,"k":0.2,"E":0.23},{"o":"z","g":"z3","w":0.4,"k":0.27,"E":0.27},
{"o":"z","g":"z4","w":0.3,"k":0,"E":0.08},{"o":"z","g":"z4","w":0.3,"k":0.1,"E":0.15},{"o":"z","g":"z4","w":0.3,"k":0.2,"E":0.22},{"o":"z","g":"z4","w":0.3,"k":0.27,"E":0.25},
{"o":"z","g":"z5","w":0.5,"k":0.174,"E":-2.0},{"o":"z","g":"z5","w":0.5,"k":0.25,"E":-1.2},{"o":"z","g":"z5","w":0.5,"k":0.3,"E":-0.75},{"o":"z","g":"z5","w":0.5,"k":0.335,"E":-0.6},{"o":"z","g":"z5","w":0.5,"k":0.365,"E":-0.66},{"o":"z","g":"z5","w":0.5,"k":0.4,"E":-0.6},{"o":"z","g":"z5","w":0.5,"k":0.44,"E":-0.8},{"o":"z","g":"z5","w":0.5,"k":0.5,"E":-1.4},{"o":"z","g":"z5","w":0.5,"k":0.537,"E":-2.0},
{"o":"z","g":"z6","w":0.7,"k":0.4,"E":0.05},{"o":"z","g":"z6","w":0.7,"k":0.43,"E":-0.15},{"o":"z","g":"z6","w":0.7,"k":0.475,"E":-0.5},{"o":"z","g":"z6","w":0.7,"k":0.537,"E":-0.86},{"o":"z","g":"z6","w":0.7,"k":0.6,"E":-1.3},{"o":"z","g":"z6","w":0.7,"k":0.69,"E":-2.0},
{"o":"z","g":"z7","w":0.5,"k":0.4,"E":0.0},{"o":"z","g":"z7","w":0.5,"k":0.43,"E":-0.22},{"o":"z","g":"z7","w":0.5,"k":0.475,"E":-0.57},{"o":"z","g":"z7","w":0.5,"k":0.537,"E":-0.93},{"o":"z","g":"z7","w":0.5,"k":0.6,"E":-1.37},{"o":"z","g":"z7","w":0.5,"k":0.69,"E":-2.05},
{"o":"z","g":"z8","w":0.35,"k":0,"E":-1.45},{"o":"z","g":"z8","w":0.35,"k":0.074,"E":-1.23},{"o":"z","g":"z8","w":0.35,"k":0.15,"E":-0.87},{"o":"z","g":"z8","w":0.35,"k":0.23,"E":-0.44},{"o":"z","g":"z8","w":0.35,"k":0.28,"E":-0.22},{"o":"z","g":"z8","w":0.35,"k":0.33,"E":0.05},
{"o":"z","g":"z9","w":0.5,"k":0.33,"E":0.05},{"o":"z","g":"z9","w":0.5,"k":0.365,"E":-0.13},{"o":"z","g":"z9","w":0.5,"k":0.4,"E":0.05},
{"o":"z","g":"z10","w":0.6,"k":0.84,"E":2.05},{"o":"z","g":"z10","w":0.6,"k":0.9,"E":1.7},{"o":"z","g":"z10","w":0.6,"k":0.95,"E":1.35},{"o":"z","g":"z10","w":0.6,"k":1,"E":1.12},
{"o":"z","g":"z11","w":0.5,"k":0.93,"E":1.3},{"o":"z","g":"z11","w":0.5,"k":1,"E":1.4},
{"o":"z","g":"z12","w":0.55,"k":0.82,"E":-2.2},{"o":"z","g":"z12","w":0.55,"k":0.877,"E":-2.0},{"o":"z","g":"z12","w":0.55,"k":0.94,"E":-1.65},{"o":"z","g":"z12","w":0.55,"k":1,"E":-1.45},
{"o":"z","g":"z13","w":0.3,"k":0.47,"E":1.05},{"o":"z","g":"z13","w":0.3,"k":0.55,"E":1.32},{"o":"z","g":"z13","w":0.3,"k":0.62,"E":1.78},{"o":"z","g":"z13","w":0.3,"k":0.67,"E":2.05},
{"o":"z","g":"z14","w":0.3,"k":0.365,"E":0.28},{"o":"z","g":"z14","w":0.3,"k":0.42,"E":0.3},{"o":"z","g":"z14","w":0.3,"k":0.48,"E":0.42},{"o":"z","g":"z14","w":0.3,"k":0.55,"E":0.68},
{"o":"z","g":"z15","w":0.3,"k":0.43,"E":-0.7},{"o":"z","g":"z15","w":0.3,"k":0.5,"E":-0.98},{"o":"z","g":"z15","w":0.3,"k":0.65,"E":-1.59}
],
"PD":[
{"o":"s","g":"s1","w":0.15,"k":0.13,"E":-1.4},{"o":"s","g":"s1","w":0.15,"k":0.19,"E":-0.8},
{"o":"s","g":"s2","w":0.2,"k":0.34,"E":0.4},{"o":"s","g":"s2","w":0.2,"k":0.365,"E":0.28},{"o":"s","g":"s2","w":0.2,"k":0.39,"E":0.4},
{"o":"s","g":"s3","w":0.12,"k":0.86,"E":-1.45},{"o":"s","g":"s3","w":0.12,"k":0.93,"E":-1.15},
{"o":"s","g":"s4","w":0.12,"k":0.46,"E":-0.43},{"o":"s","g":"s4","w":0.12,"k":0.5,"E":-0.8},{"o":"s","g":"s4","w":0.12,"k":0.55,"E":-1.45},
{"o":"s","g":"s5","w":0.1,"k":0.14,"E":1.05},{"o":"s","g":"s5","w":0.1,"k":0.2,"E":1.2},
{"o":"x","g":"x1","w":0.8,"k":0.18,"E":1.7},{"o":"x","g":"x1","w":0.8,"k":0.22,"E":1.72},{"o":"x","g":"x1","w":0.8,"k":0.27,"E":1.6},{"o":"x","g":"x1","w":0.8,"k":0.32,"E":1.45},{"o":"x","g":"x1","w":0.8,"k":0.365,"E":1.33},
{"o":"x","g":"x2","w":0.7,"k":0.365,"E":1.32},{"o":"x","g":"x2","w":0.7,"k":0.42,"E":1.35},{"o":"x","g":"x2","w":0.7,"k":0.5,"E":1.36},
{"o":"x","g":"x3","w":0.7,"k":0.365,"E":1.33},{"o":"x","g":"x3","w":0.7,"k":0.4,"E":1.6},{"o":"x","g":"x3","w":0.7,"k":0.43,"E":1.95},{"o":"x","g":"x3","w":0.7,"k":0.47,"E":1.98},{"o":"x","g":"x3","w":0.7,"k":0.53,"E":1.85},
{"o":"x","g":"x4","w":0.3,"k":0.53,"E":1.85},{"o":"x","g":"x4","w":0.3,"k":0.58,"E":1.88},{"o":"x","g":"x4","w":0.3,"k":0.63,"E":1.95},{"o":"x","g":"x4","w":0.3,"k":0.7,"E":1.6},
{"o":"x","g":"x5","w":1,"k":0.31,"E":1.12},{"o":"x","g":"x5","w":1,"k":0.365,"E":1.07},{"o":"x","g":"x5","w":1,"k":0.42,"E":1.15},
{"o":"x","g":"x6","w":0.6,"k":0.31,"E":1.0},{"o":"x","g":"x6","w":0.6,"k":0.365,"E":0.97},{"o":"x","g":"x6","w":0.6,"k":0.42,"E":1.02},{"o":"x","g":"x6","w":0.6,"k":0.46,"E":1.0},{"o":"x","g":"x6","w":0.6,"k":0.5,"E":0.87},
{"o":"x","g":"x7","w":0.6,"k":0,"E":-0.91},{"o":"x","g":"x7","w":0.6,"k":0.06,"E":-0.75},{"o":"x","g":"x7","w":0.6,"k":0.12,"E":-0.45},{"o":"x","g":"x7","w":0.6,"k":0.18,"E":-0.15},{"o":"x","g":"x7","w":0.6,"k":0.22,"E":0.05},{"o":"x","g":"x7","w":0.6,"k":0.25,"E":0.1},
{"o":"x","g":"x8","w":0.4,"k":0,"E":-0.93},{"o":"x","g":"x8","w":0.4,"k":0.06,"E":-0.78},{"o":"x","g":"x8","w":0.4,"k":0.12,"E":-0.5},{"o":"x","g":"x8","w":0.4,"k":0.18,"E":-0.2},{"o":"x","g":"x8","w":0.4,"k":0.22,"E":0.0},{"o":"x","g":"x8","w":0.4,"k":0.25,"E":0.07},
{"o":"x","g":"x9","w":0.5,"k":0.385,"E":-0.28},{"o":"x","g":"x9","w":0.5,"k":0.42,"E":-0.45},{"o":"x","g":"x9","w":0.5,"k":0.46,"E":-0.8},{"o":"x","g":"x9","w":0.5,"k":0.5,"E":-1.2},{"o":"x","g":"x9","w":0.5,"k":0.55,"E":-1.55},
{"o":"x","g":"x10","w":0.5,"k":0.18,"E":-1.55},{"o":"x","g":"x10","w":0.5,"k":0.24,"E":-1.28},{"o":"x","g":"x10","w":0.5,"k":0.3,"E":-1.45},
{"o":"x","g":"x11","w":0.5,"k":0.43,"E":-1.42},{"o":"x","g":"x11","w":0.5,"k":0.47,"E":-1.25},{"o":"x","g":"x11","w":0.5,"k":0.52,"E":-1.45},
{"o":"x","g":"x12","w":0.2,"k":0.46,"E":-0.05},{"o":"x","g":"x12","w":0.2,"k":0.55,"E":-0.45},{"o":"x","g":"x12","w":0.2,"k":0.65,"E":-0.95},{"o":"x","g":"x12","w":0.2,"k":0.72,"E":-1.35},{"o":"x","g":"x12","w":0.2,"k":0.79,"E":-1.64},
{"o":"x","g":"x13","w":0.45,"k":0.79,"E":-1.64},{"o":"x","g":"x13","w":0.45,"k":0.86,"E":-1.45},{"o":"x","g":"x13","w":0.45,"k":0.93,"E":-1.15},{"o":"x","g":"x13","w":0.45,"k":1,"E":-0.91},
{"o":"x","g":"x14","w":0.45,"k":0.79,"E":1.28},{"o":"x","g":"x14","w":0.45,"k":0.85,"E":1.5},{"o":"x","g":"x14","w":0.45,"k":0.89,"E":1.65},{"o":"x","g":"x14","w":0.45,"k":0.95,"E":1.5},{"o":"x","g":"x14","w":0.45,"k":1,"E":1.45},
{"o":"x","g":"x15","w":0.6,"k":0.7,"E":1.0},{"o":"x","g":"x15","w":0.6,"k":0.79,"E":1.05},{"o":"x","g":"x15","w":0.6,"k":0.86,"E":0.9},
{"o":"x","g":"x16","w":0.4,"k":0.31,"E":0.38},{"o":"x","g":"x16","w":0.4,"k":0.34,"E":0.4},{"o":"x","g":"x16","w":0.4,"k":0.365,"E":0.28},{"o":"x","g":"x16","w":0.4,"k":0.39,"E":0.4},{"o":"x","g":"x16","w":0.4,"k":0.42,"E":0.38},
{"o":"x","g":"x17","w":0.3,"k":0.19,"E":-0.8},{"o":"x","g":"x17","w":0.3,"k":0.25,"E":-0.43},{"o":"x","g":"x17","w":0.3,"k":0.3,"E":-0.55},
{"o":"x","g":"x18","w":0.3,"k":0.42,"E":-0.55},{"o":"x","g":"x18","w":0.3,"k":0.46,"E":-0.43},{"o":"x","g":"x18","w":0.3,"k":0.5,"E":-0.8},
{"o":"x","g":"x19","w":0.4,"k":0.365,"E":0.07},{"o":"x","g":"x19","w":0.4,"k":0.41,"E":0.05},{"o":"x","g":"x19","w":0.4,"k":0.45,"E":0.1},
{"o":"x","g":"x20","w":0.3,"k":0,"E":1.47},{"o":"x","g":"x20","w":0.3,"k":0.07,"E":1.35},{"o":"x","g":"x20","w":0.3,"k":0.13,"E":1.27},
{"o":"y","g":"y1","w":1,"k":0,"E":-0.91},{"o":"y","g":"y1","w":1,"k":0.06,"E":-0.75},{"o":"y","g":"y1","w":1,"k":0.12,"E":-0.45},{"o":"y","g":"y1","w":1,"k":0.18,"E":-0.15},{"o":"y","g":"y1","w":1,"k":0.22,"E":0.05},{"o":"y","g":"y1","w":1,"k":0.25,"E":0.1},{"o":"y","g":"y1","w":1,"k":0.29,"E":-0.05},
{"o":"y","g":"y2","w":0.5,"k":0,"E":-0.93},{"o":"y","g":"y2","w":0.5,"k":0.06,"E":-0.78},{"o":"y","g":"y2","w":0.5,"k":0.12,"E":-0.5},{"o":"y","g":"y2","w":0.5,"k":0.18,"E":-0.2},{"o":"y","g":"y2","w":0.5,"k":0.22,"E":0.0},{"o":"y","g":"y2","w":0.5,"k":0.25,"E":0.07},
{"o":"y","g":"y3","w":0.8,"k":0.46,"E":-0.05},{"o":"y","g":"y3","w":0.8,"k":0.55,"E":-0.45},{"o":"y","g":"y3","w":0.8,"k":0.65,"E":-0.95},{"o":"y","g":"y3","w":0.8,"k":0.72,"E":-1.35},{"o":"y","g":"y3","w":0.8,"k":0.79,"E":-1.64},
{"o":"y","g":"y4","w":0.3,"k":0.46,"E":-0.08},{"o":"y","g":"y4","w":0.3,"k":0.55,"E":-0.5},{"o":"y","g":"y4","w":0.3,"k":0.65,"E":-1.0},{"o":"y","g":"y4","w":0.3,"k":0.72,"E":-1.4},{"o":"y","g":"y4","w":0.3,"k":0.79,"E":-1.68},
{"o":"y","g":"y5","w":0.55,"k":0.79,"E":-1.64},{"o":"y","g":"y5","w":0.55,"k":0.86,"E":-1.45},{"o":"y","g":"y5","w":0.55,"k":0.93,"E":-1.15},{"o":"y","g":"y5","w":0.55,"k":1,"E":-0.91},
{"o":"y","g":"y6","w":0.6,"k":0.365,"E":1.33},{"o":"y","g":"y6","w":0.6,"k":0.4,"E":1.6},{"o":"y","g":"y6","w":0.6,"k":0.43,"E":1.95},{"o":"y","g":"y6","w":0.6,"k":0.47,"E":1.98},{"o":"y","g":"y6","w":0.6,"k":0.53,"E":1.85},{"o":"y","g":"y6","w":0.6,"k":0.58,"E":1.88},{"o":"y","g":"y6","w":0.6,"k":0.63,"E":1.95},{"o":"y","g":"y6","w":0.6,"k":0.7,"E":1.6},{"o":"y","g":"y6","w":0.6,"k":0.79,"E":1.28},
{"o":"y","g":"y7","w":0.7,"k":0.365,"E":1.32},{"o":"y","g":"y7","w":0.7,"k":0.42,"E":1.35},{"o":"y","g":"y7","w":0.7,"k":0.5,"E":1.36},
{"o":"y","g":"y8","w":0.5,"k":0.18,"E":1.7},{"o":"y","g":"y8","w":0.5,"k":0.22,"E":1.72},{"o":"y","g":"y8","w":0.5,"k":0.27,"E":1.6},{"o":"y","g":"y8","w":0.5,"k":0.32,"E":1.45},{"o":"y","g":"y8","w":0.5,"k":0.365,"E":1.33},
{"o":"y","g":"y9","w":0.8,"k":0.31,"E":1.12},{"o":"y","g":"y9","w":0.8,"k":0.365,"E":1.07},{"o":"y","g":"y9","w":0.8,"k":0.42,"E":1.15},
{"o":"y","g":"y10","w":0.5,"k":0.42,"E":1.02},{"o":"y","g":"y10","w":0.5,"k":0.46,"E":1.0},{"o":"y","g":"y10","w":0.5,"k":0.5,"E":0.87},
{"o":"y","g":"y11","w":0.7,"k":0.31,"E":0.38},{"o":"y","g":"y11","w":0.7,"k":0.34,"E":0.4},{"o":"y","g":"y11","w":0.7,"k":0.365,"E":0.28},{"o":"y","g":"y11","w":0.7,"k":0.39,"E":0.4},{"o":"y","g":"y11","w":0.7,"k":0.42,"E":0.38},{"o":"y","g":"y11","w":0.7,"k":0.46,"E":0.2},
{"o":"y","g":"y12","w":0.6,"k":0.39,"E":0.22},{"o":"y","g":"y12","w":0.6,"k":0.43,"E":0.25},{"o":"y","g":"y12","w":0.6,"k":0.46,"E":0.12},
{"o":"y","g":"y13","w":0.45,"k":0.79,"E":1.28},{"o":"y","g":"y13","w":0.45,"k":0.85,"E":1.5},{"o":"y","g":"y13","w":0.45,"k":0.89,"E":1.65},{"o":"y","g":"y13","w":0.45,"k":0.95,"E":1.5},{"o":"y","g":"y13","w":0.45,"k":1,"E":1.45},
{"o":"y","g":"y14","w":0.3,"k":0.385,"E":-0.28},{"o":"y","g":"y14","w":0.3,"k":0.42,"E":-0.45},{"o":"y","g":"y14","w":0.3,"k":0.46,"E":-0.8},{"o":"y","g":"y14","w":0.3,"k":0.5,"E":-1.2},{"o":"y","g":"y14","w":0.3,"k":0.55,"E":-1.55},
{"o":"y","g":"y15","w":0.4,"k":0.42,"E":1.15},{"o":"y","g":"y15","w":0.4,"k":0.46,"E":1.28},{"o":"y","g":"y15","w":0.4,"k":0.5,"E":1.2},{"o":"y","g":"y15","w":0.4,"k":0.56,"E":1.05},
{"o":"y","g":"y16","w":0.25,"k":0.53,"E":0.7},{"o":"y","g":"y16","w":0.25,"k":0.6,"E":0.73},{"o":"y","g":"y16","w":0.25,"k":0.7,"E":0.76},{"o":"y","g":"y16","w":0.25,"k":0.79,"E":0.8},
{"o":"y","g":"y17","w":0.3,"k":0.16,"E":0.54},{"o":"y","g":"y17","w":0.3,"k":0.25,"E":0.48},{"o":"y","g":"y17","w":0.3,"k":0.31,"E":0.38},
{"o":"z","g":"z1","w":0.5,"k":0,"E":1.64},{"o":"z","g":"z1","w":0.5,"k":0.1,"E":1.66},{"o":"z","g":"z1","w":0.5,"k":0.18,"E":1.7},{"o":"z","g":"z1","w":0.5,"k":0.22,"E":1.72},
{"o":"z","g":"z2","w":0.5,"k":0,"E":1.82},{"o":"z","g":"z2","w":0.5,"k":0.04,"E":1.92},{"o":"z","g":"z2","w":0.5,"k":0.08,"E":2.05},
{"o":"z","g":"z3","w":0.7,"k":0,"E":1.47},{"o":"z","g":"z3","w":0.7,"k":0.07,"E":1.35},{"o":"z","g":"z3","w":0.7,"k":0.13,"E":1.27},
{"o":"z","g":"z4","w":0.5,"k":0,"E":1.43},{"o":"z","g":"z4","w":0.5,"k":0.07,"E":1.32},{"o":"z","g":"z4","w":0.5,"k":0.13,"E":1.25},
{"o":"z","g":"z5","w":0.7,"k":0.46,"E":-0.05},{"o":"z","g":"z5","w":0.7,"k":0.55,"E":-0.45},{"o":"z","g":"z5","w":0.7,"k":0.65,"E":-0.95},{"o":"z","g":"z5","w":0.7,"k":0.72,"E":-1.35},{"o":"z","g":"z5","w":0.7,"k":0.79,"E":-1.64},
{"o":"z","g":"z6","w":0.4,"k":0,"E":-0.91},{"o":"z","g":"z6","w":0.4,"k":0.06,"E":-0.75},{"o":"z","g":"z6","w":0.4,"k":0.12,"E":-0.45},{"o":"z","g":"z6","w":0.4,"k":0.18,"E":-0.15},{"o":"z","g":"z6","w":0.4,"k":0.22,"E":0.05},{"o":"z","g":"z6","w":0.4,"k":0.25,"E":0.1},
{"o":"z","g":"z7","w":0.6,"k":0.1,"E":-1.8},{"o":"z","g":"z7","w":0.6,"k":0.13,"E":-1.4},{"o":"z","g":"z7","w":0.6,"k":0.19,"E":-0.8},{"o":"z","g":"z7","w":0.6,"k":0.25,"E":-0.43},
{"o":"z","g":"z8","w":0.6,"k":0.46,"E":-0.43},{"o":"z","g":"z8","w":0.6,"k":0.5,"E":-0.8},{"o":"z","g":"z8","w":0.6,"k":0.55,"E":-1.45},{"o":"z","g":"z8","w":0.6,"k":0.6,"E":-2.05},
{"o":"z","g":"z9","w":0.5,"k":0.385,"E":-0.28},{"o":"z","g":"z9","w":0.5,"k":0.42,"E":-0.45},{"o":"z","g":"z9","w":0.5,"k":0.46,"E":-0.8},{"o":"z","g":"z9","w":0.5,"k":0.5,"E":-1.2},{"o":"z","g":"z9","w":0.5,"k":0.55,"E":-1.55},
{"o":"z","g":"z10","w":0.6,"k":0.79,"E":-1.64},{"o":"z","g":"z10","w":0.6,"k":0.86,"E":-1.45},{"o":"z","g":"z10","w":0.6,"k":0.93,"E":-1.15},{"o":"z","g":"z10","w":0.6,"k":1,"E":-0.91},
{"o":"z","g":"z11","w":0.5,"k":0.31,"E":0.38},{"o":"z","g":"z11","w":0.5,"k":0.34,"E":0.4},{"o":"z","g":"z11","w":0.5,"k":0.365,"E":0.28},{"o":"z","g":"z11","w":0.5,"k":0.39,"E":0.4},{"o":"z","g":"z11","w":0.5,"k":0.42,"E":0.38},
{"o":"z","g":"z12","w":0.2,"k":0.43,"E":1.95},{"o":"z","g":"z12","w":0.2,"k":0.47,"E":1.98},{"o":"z","g":"z12","w":0.2,"k":0.53,"E":1.85},{"o":"z","g":"z12","w":0.2,"k":0.58,"E":1.88},{"o":"z","g":"z12","w":0.2,"k":0.63,"E":1.95},
{"o":"z","g":"z13","w":0.3,"k":0.18,"E":-1.55},{"o":"z","g":"z13","w":0.3,"k":0.24,"E":-1.28},{"o":"z","g":"z13","w":0.3,"k":0.3,"E":-1.45},
{"o":"z","g":"z14","w":0.5,"k":0.89,"E":1.65},{"o":"z","g":"z14","w":0.5,"k":0.95,"E":1.5},{"o":"z","g":"z14","w":0.5,"k":1,"E":1.45},
{"o":"z","g":"z15","w":0.5,"k":0.86,"E":2.05},{"o":"z","g":"z15","w":0.5,"k":0.93,"E":1.85},{"o":"z","g":"z15","w":0.5,"k":1,"E":1.7},
{"o":"z","g":"z16","w":0.3,"k":0,"E":-1.79},{"o":"z","g":"z16","w":0.3,"k":0.1,"E":-1.72},{"o":"z","g":"z16","w":0.3,"k":0.2,"E":-1.62},
{"o":"z","g":"z17","w":0.2,"k":0.53,"E":0.7},{"o":"z","g":"z17","w":0.2,"k":0.6,"E":0.73},{"o":"z","g":"z17","w":0.2,"k":0.7,"E":0.76},{"o":"z","g":"z17","w":0.2,"k":0.79,"E":0.8}
]
},
"bounds":"flush",
"columns":4,
"spacing":{"row":26,"column":34},
"concat":[
 {"width":215,"height":218,"layer":[
   {"data":{"name":"U"},"mark":{"type":"line","interpolate":"monotone","clip":true,"stroke":"#7c7c7c","strokeWidth":0.9},"encoding":{"x":{"field":"k","type":"quantitative","scale":{"domain":[0,1],"nice":false,"zero":false},"axis":{"values":[0,0.365,0.79,1],"labelExpr":"datum.value==0.365?'Γ':datum.value==0.79?'K':'M'"}},"y":{"field":"E","type":"quantitative","scale":{"domain":[-2,2],"nice":false,"zero":false},"axis":{"values":[-2,-1.5,-1,-0.5,0,0.5,1,1.5,2],"tickCount":9,"labelOverlap":false,"format":".1f","title":"Energy (eV)"}},"detail":{"field":"b"}}},
   {"data":{"name":"PU"},"transform":[{"filter":"datum.o=='s'"}],"mark":{"type":"line","interpolate":"monotone","clip":true,"stroke":"#e05a5a","opacity":0.9,"strokeCap":"round"},"encoding":{"x":{"field":"k","type":"quantitative"},"y":{"field":"E","type":"quantitative","title":"Energy (eV)"},"detail":{"field":"g"},"strokeWidth":{"field":"w","type":"quantitative","scale":{"domain":[0,1],"range":[0.6,6.5]},"legend":null}}},
   {"data":{"name":"G"},"mark":{"type":"rule","stroke":"#555","strokeDash":[4,3]},"encoding":{"x":{"field":"k","type":"quantitative"},"y":{"datum":-2},"y2":{"datum":2}}},
   {"data":{"values":[{}]},"mark":{"type":"rule","stroke":"#555","strokeDash":[4,3]},"encoding":{"x":{"datum":0},"x2":{"datum":1},"y":{"datum":0}}},
   {"data":{"values":[{}]},"mark":{"type":"text","text":"(a)","font":"Liberation Serif","fontSize":14,"fill":"#222"},"encoding":{"x":{"datum":0.2},"y":{"datum":1.7}}},
   {"data":{"values":[{}]},"mark":{"type":"text","text":"Bi-","font":"Liberation Sans","fontSize":16,"align":"right","baseline":"alphabetic","fill":"#111"},"encoding":{"x":{"datum":0.716},"y":{"datum":0.04}}},
   {"data":{"values":[{}]},"mark":{"type":"text","text":"s","font":"Liberation Sans","fontSize":16,"fontStyle":"italic","align":"left","baseline":"alphabetic","fill":"#111"},"encoding":{"x":{"datum":0.716},"y":{"datum":0.04}}}
  ]},
 {"width":215,"height":218,"layer":[
   {"data":{"name":"U"},"mark":{"type":"line","interpolate":"monotone","clip":true,"stroke":"#7c7c7c","strokeWidth":0.9},"encoding":{"x":{"field":"k","type":"quantitative","scale":{"domain":[0,1],"nice":false,"zero":false},"axis":{"values":[0,0.365,0.79,1],"labelExpr":"datum.value==0.365?'Γ':datum.value==0.79?'K':'M'"}},"y":{"field":"E","type":"quantitative","scale":{"domain":[-2,2],"nice":false,"zero":false},"axis":{"values":[-2,-1.5,-1,-0.5,0,0.5,1,1.5,2],"tickCount":9,"labelOverlap":false,"format":".1f","title":null}},"detail":{"field":"b"}}},
   {"data":{"name":"PU"},"transform":[{"filter":"datum.o=='x'"}],"mark":{"type":"line","interpolate":"monotone","clip":true,"stroke":"#1c1cff","opacity":0.9,"strokeCap":"round"},"encoding":{"x":{"field":"k","type":"quantitative"},"y":{"field":"E","type":"quantitative","title":null},"detail":{"field":"g"},"strokeWidth":{"field":"w","type":"quantitative","scale":{"domain":[0,1],"range":[0.6,6.5]},"legend":null}}},
   {"data":{"name":"G"},"mark":{"type":"rule","stroke":"#555","strokeDash":[4,3]},"encoding":{"x":{"field":"k","type":"quantitative"},"y":{"datum":-2},"y2":{"datum":2}}},
   {"data":{"values":[{}]},"mark":{"type":"rule","stroke":"#555","strokeDash":[4,3]},"encoding":{"x":{"datum":0},"x2":{"datum":1},"y":{"datum":0}}},
   {"data":{"values":[{}]},"mark":{"type":"text","text":"(b)","font":"Liberation Serif","fontSize":14,"fill":"#222"},"encoding":{"x":{"datum":0.22},"y":{"datum":1.7}}},
   {"data":{"values":[{}]},"mark":{"type":"text","text":"Bi-","font":"Liberation Sans","fontSize":16,"align":"right","baseline":"alphabetic","fill":"#111"},"encoding":{"x":{"datum":0.7},"y":{"datum":0.04}}},
   {"data":{"values":[{}]},"mark":{"type":"text","text":"px","font":"Liberation Sans","fontSize":16,"fontStyle":"italic","align":"left","baseline":"alphabetic","fill":"#111"},"encoding":{"x":{"datum":0.7},"y":{"datum":0.04}}}
  ]},
 {"width":215,"height":218,"layer":[
   {"data":{"name":"U"},"mark":{"type":"line","interpolate":"monotone","clip":true,"stroke":"#7c7c7c","strokeWidth":0.9},"encoding":{"x":{"field":"k","type":"quantitative","scale":{"domain":[0,1],"nice":false,"zero":false},"axis":{"values":[0,0.365,0.79,1],"labelExpr":"datum.value==0.365?'Γ':datum.value==0.79?'K':'M'"}},"y":{"field":"E","type":"quantitative","scale":{"domain":[-2,2],"nice":false,"zero":false},"axis":{"values":[-2,-1.5,-1,-0.5,0,0.5,1,1.5,2],"tickCount":9,"labelOverlap":false,"format":".1f","title":null}},"detail":{"field":"b"}}},
   {"data":{"name":"PU"},"transform":[{"filter":"datum.o=='y'"}],"mark":{"type":"line","interpolate":"monotone","clip":true,"stroke":"#ff00ff","opacity":0.9,"strokeCap":"round"},"encoding":{"x":{"field":"k","type":"quantitative"},"y":{"field":"E","type":"quantitative","title":null},"detail":{"field":"g"},"strokeWidth":{"field":"w","type":"quantitative","scale":{"domain":[0,1],"range":[0.6,6.5]},"legend":null}}},
   {"data":{"name":"G"},"mark":{"type":"rule","stroke":"#555","strokeDash":[4,3]},"encoding":{"x":{"field":"k","type":"quantitative"},"y":{"datum":-2},"y2":{"datum":2}}},
   {"data":{"values":[{}]},"mark":{"type":"rule","stroke":"#555","strokeDash":[4,3]},"encoding":{"x":{"datum":0},"x2":{"datum":1},"y":{"datum":0}}},
   {"data":{"values":[{}]},"mark":{"type":"text","text":"(c)","font":"Liberation Serif","fontSize":14,"fill":"#222"},"encoding":{"x":{"datum":0.22},"y":{"datum":1.7}}},
   {"data":{"values":[{}]},"mark":{"type":"text","text":"Bi-","font":"Liberation Sans","fontSize":16,"align":"right","baseline":"alphabetic","fill":"#111"},"encoding":{"x":{"datum":0.7},"y":{"datum":0.04}}},
   {"data":{"values":[{}]},"mark":{"type":"text","text":"py","font":"Liberation Sans","fontSize":16,"fontStyle":"italic","align":"left","baseline":"alphabetic","fill":"#111"},"encoding":{"x":{"datum":0.7},"y":{"datum":0.04}}}
  ]},
 {"width":215,"height":218,"layer":[
   {"data":{"name":"U"},"mark":{"type":"line","interpolate":"monotone","clip":true,"stroke":"#7c7c7c","strokeWidth":0.9},"encoding":{"x":{"field":"k","type":"quantitative","scale":{"domain":[0,1],"nice":false,"zero":false},"axis":{"values":[0,0.365,0.79,1],"labelExpr":"datum.value==0.365?'Γ':datum.value==0.79?'K':'M'"}},"y":{"field":"E","type":"quantitative","scale":{"domain":[-2,2],"nice":false,"zero":false},"axis":{"values":[-2,-1.5,-1,-0.5,0,0.5,1,1.5,2],"tickCount":9,"labelOverlap":false,"format":".1f","title":null}},"detail":{"field":"b"}}},
   {"data":{"name":"PU"},"transform":[{"filter":"datum.o=='z'"}],"mark":{"type":"line","interpolate":"monotone","clip":true,"stroke":"#ff8000","opacity":0.9,"strokeCap":"round"},"encoding":{"x":{"field":"k","type":"quantitative"},"y":{"field":"E","type":"quantitative","title":null},"detail":{"field":"g"},"strokeWidth":{"field":"w","type":"quantitative","scale":{"domain":[0,1],"range":[0.6,6.5]},"legend":null}}},
   {"data":{"name":"G"},"mark":{"type":"rule","stroke":"#555","strokeDash":[4,3]},"encoding":{"x":{"field":"k","type":"quantitative"},"y":{"datum":-2},"y2":{"datum":2}}},
   {"data":{"values":[{}]},"mark":{"type":"rule","stroke":"#555","strokeDash":[4,3]},"encoding":{"x":{"datum":0},"x2":{"datum":1},"y":{"datum":0}}},
   {"data":{"values":[{}]},"mark":{"type":"text","text":"(d)","font":"Liberation Serif","fontSize":14,"fill":"#222"},"encoding":{"x":{"datum":0.2},"y":{"datum":1.7}}},
   {"data":{"values":[{}]},"mark":{"type":"text","text":"Bi-","font":"Liberation Sans","fontSize":16,"align":"right","baseline":"alphabetic","fill":"#111"},"encoding":{"x":{"datum":0.7},"y":{"datum":0.04}}},
   {"data":{"values":[{}]},"mark":{"type":"text","text":"pz","font":"Liberation Sans","fontSize":16,"fontStyle":"italic","align":"left","baseline":"alphabetic","fill":"#111"},"encoding":{"x":{"datum":0.7},"y":{"datum":0.04}}},
   {"data":{"values":[{}]},"mark":{"type":"text","text":"Bi(111)-BL/","font":"Liberation Serif","fontSize":17,"align":"left","baseline":"middle","fill":"#111"},"encoding":{"x":{"datum":1.033},"y":{"datum":0.07}}},
   {"data":{"values":[{}]},"mark":{"type":"text","text":"α-In₂Se₃-BL","font":"Liberation Serif","fontSize":17,"align":"left","baseline":"middle","fill":"#111"},"encoding":{"x":{"datum":1.033},"y":{"datum":-0.37}}},
   {"data":{"values":[{}]},"mark":{"type":"text","text":"-up","font":"Liberation Serif","fontSize":17,"align":"left","baseline":"middle","fill":"#111"},"encoding":{"x":{"datum":1.033},"y":{"datum":-0.79}}}
  ]},
 {"width":215,"height":218,"layer":[
   {"data":{"name":"D"},"mark":{"type":"line","interpolate":"monotone","clip":true,"stroke":"#7c7c7c","strokeWidth":0.9},"encoding":{"x":{"field":"k","type":"quantitative","scale":{"domain":[0,1],"nice":false,"zero":false},"axis":{"values":[0,0.365,0.79,1],"labelExpr":"datum.value==0.365?'Γ':datum.value==0.79?'K':'M'"}},"y":{"field":"E","type":"quantitative","scale":{"domain":[-2,2],"nice":false,"zero":false},"axis":{"values":[-2,-1.5,-1,-0.5,0,0.5,1,1.5,2],"tickCount":9,"labelOverlap":false,"format":".1f","title":"Energy (eV)"}},"detail":{"field":"b"}}},
   {"data":{"name":"PD"},"transform":[{"filter":"datum.o=='s'"}],"mark":{"type":"line","interpolate":"monotone","clip":true,"stroke":"#e05a5a","opacity":0.9,"strokeCap":"round"},"encoding":{"x":{"field":"k","type":"quantitative"},"y":{"field":"E","type":"quantitative","title":"Energy (eV)"},"detail":{"field":"g"},"strokeWidth":{"field":"w","type":"quantitative","scale":{"domain":[0,1],"range":[0.6,6.5]},"legend":null}}},
   {"data":{"name":"G"},"mark":{"type":"rule","stroke":"#555","strokeDash":[4,3]},"encoding":{"x":{"field":"k","type":"quantitative"},"y":{"datum":-2},"y2":{"datum":2}}},
   {"data":{"values":[{}]},"mark":{"type":"rule","stroke":"#555","strokeDash":[4,3]},"encoding":{"x":{"datum":0},"x2":{"datum":1},"y":{"datum":0}}},
   {"data":{"values":[{}]},"mark":{"type":"text","text":"(e)","font":"Liberation Serif","fontSize":14,"fill":"#222"},"encoding":{"x":{"datum":0.19},"y":{"datum":1.82}}},
   {"data":{"values":[{}]},"mark":{"type":"text","text":"Bi-","font":"Liberation Sans","fontSize":16,"align":"right","baseline":"alphabetic","fill":"#111"},"encoding":{"x":{"datum":0.716},"y":{"datum":0.04}}},
   {"data":{"values":[{}]},"mark":{"type":"text","text":"s","font":"Liberation Sans","fontSize":16,"fontStyle":"italic","align":"left","baseline":"alphabetic","fill":"#111"},"encoding":{"x":{"datum":0.716},"y":{"datum":0.04}}}
  ]},
 {"width":215,"height":218,"layer":[
   {"data":{"name":"D"},"mark":{"type":"line","interpolate":"monotone","clip":true,"stroke":"#7c7c7c","strokeWidth":0.9},"encoding":{"x":{"field":"k","type":"quantitative","scale":{"domain":[0,1],"nice":false,"zero":false},"axis":{"values":[0,0.365,0.79,1],"labelExpr":"datum.value==0.365?'Γ':datum.value==0.79?'K':'M'"}},"y":{"field":"E","type":"quantitative","scale":{"domain":[-2,2],"nice":false,"zero":false},"axis":{"values":[-2,-1.5,-1,-0.5,0,0.5,1,1.5,2],"tickCount":9,"labelOverlap":false,"format":".1f","title":null}},"detail":{"field":"b"}}},
   {"data":{"name":"PD"},"transform":[{"filter":"datum.o=='x'"}],"mark":{"type":"line","interpolate":"monotone","clip":true,"stroke":"#1c1cff","opacity":0.9,"strokeCap":"round"},"encoding":{"x":{"field":"k","type":"quantitative"},"y":{"field":"E","type":"quantitative","title":null},"detail":{"field":"g"},"strokeWidth":{"field":"w","type":"quantitative","scale":{"domain":[0,1],"range":[0.6,6.5]},"legend":null}}},
   {"data":{"name":"G"},"mark":{"type":"rule","stroke":"#555","strokeDash":[4,3]},"encoding":{"x":{"field":"k","type":"quantitative"},"y":{"datum":-2},"y2":{"datum":2}}},
   {"data":{"values":[{}]},"mark":{"type":"rule","stroke":"#555","strokeDash":[4,3]},"encoding":{"x":{"datum":0},"x2":{"datum":1},"y":{"datum":0}}},
   {"data":{"values":[{}]},"mark":{"type":"text","text":"(f)","font":"Liberation Serif","fontSize":14,"fill":"#222"},"encoding":{"x":{"datum":0.21},"y":{"datum":1.82}}},
   {"data":{"values":[{}]},"mark":{"type":"text","text":"Bi-","font":"Liberation Sans","fontSize":16,"align":"right","baseline":"alphabetic","fill":"#111"},"encoding":{"x":{"datum":0.7},"y":{"datum":0.04}}},
   {"data":{"values":[{}]},"mark":{"type":"text","text":"px","font":"Liberation Sans","fontSize":16,"fontStyle":"italic","align":"left","baseline":"alphabetic","fill":"#111"},"encoding":{"x":{"datum":0.7},"y":{"datum":0.04}}}
  ]},
 {"width":215,"height":218,"layer":[
   {"data":{"name":"D"},"mark":{"type":"line","interpolate":"monotone","clip":true,"stroke":"#7c7c7c","strokeWidth":0.9},"encoding":{"x":{"field":"k","type":"quantitative","scale":{"domain":[0,1],"nice":false,"zero":false},"axis":{"values":[0,0.365,0.79,1],"labelExpr":"datum.value==0.365?'Γ':datum.value==0.79?'K':'M'"}},"y":{"field":"E","type":"quantitative","scale":{"domain":[-2,2],"nice":false,"zero":false},"axis":{"values":[-2,-1.5,-1,-0.5,0,0.5,1,1.5,2],"tickCount":9,"labelOverlap":false,"format":".1f","title":null}},"detail":{"field":"b"}}},
   {"data":{"name":"PD"},"transform":[{"filter":"datum.o=='y'"}],"mark":{"type":"line","interpolate":"monotone","clip":true,"stroke":"#ff00ff","opacity":0.9,"strokeCap":"round"},"encoding":{"x":{"field":"k","type":"quantitative"},"y":{"field":"E","type":"quantitative","title":null},"detail":{"field":"g"},"strokeWidth":{"field":"w","type":"quantitative","scale":{"domain":[0,1],"range":[0.6,6.5]},"legend":null}}},
   {"data":{"name":"G"},"mark":{"type":"rule","stroke":"#555","strokeDash":[4,3]},"encoding":{"x":{"field":"k","type":"quantitative"},"y":{"datum":-2},"y2":{"datum":2}}},
   {"data":{"values":[{}]},"mark":{"type":"rule","stroke":"#555","strokeDash":[4,3]},"encoding":{"x":{"datum":0},"x2":{"datum":1},"y":{"datum":0}}},
   {"data":{"values":[{}]},"mark":{"type":"text","text":"(g)","font":"Liberation Serif","fontSize":14,"fill":"#222"},"encoding":{"x":{"datum":0.23},"y":{"datum":1.82}}},
   {"data":{"values":[{}]},"mark":{"type":"text","text":"Bi-","font":"Liberation Sans","fontSize":16,"align":"right","baseline":"alphabetic","fill":"#111"},"encoding":{"x":{"datum":0.7},"y":{"datum":0.04}}},
   {"data":{"values":[{}]},"mark":{"type":"text","text":"py","font":"Liberation Sans","fontSize":16,"fontStyle":"italic","align":"left","baseline":"alphabetic","fill":"#111"},"encoding":{"x":{"datum":0.7},"y":{"datum":0.04}}}
  ]},
 {"width":215,"height":218,"layer":[
   {"data":{"name":"D"},"mark":{"type":"line","interpolate":"monotone","clip":true,"stroke":"#7c7c7c","strokeWidth":0.9},"encoding":{"x":{"field":"k","type":"quantitative","scale":{"domain":[0,1],"nice":false,"zero":false},"axis":{"values":[0,0.365,0.79,1],"labelExpr":"datum.value==0.365?'Γ':datum.value==0.79?'K':'M'"}},"y":{"field":"E","type":"quantitative","scale":{"domain":[-2,2],"nice":false,"zero":false},"axis":{"values":[-2,-1.5,-1,-0.5,0,0.5,1,1.5,2],"tickCount":9,"labelOverlap":false,"format":".1f","title":null}},"detail":{"field":"b"}}},
   {"data":{"name":"PD"},"transform":[{"filter":"datum.o=='z'"}],"mark":{"type":"line","interpolate":"monotone","clip":true,"stroke":"#ff8000","opacity":0.9,"strokeCap":"round"},"encoding":{"x":{"field":"k","type":"quantitative"},"y":{"field":"E","type":"quantitative","title":null},"detail":{"field":"g"},"strokeWidth":{"field":"w","type":"quantitative","scale":{"domain":[0,1],"range":[0.6,6.5]},"legend":null}}},
   {"data":{"name":"G"},"mark":{"type":"rule","stroke":"#555","strokeDash":[4,3]},"encoding":{"x":{"field":"k","type":"quantitative"},"y":{"datum":-2},"y2":{"datum":2}}},
   {"data":{"values":[{}]},"mark":{"type":"rule","stroke":"#555","strokeDash":[4,3]},"encoding":{"x":{"datum":0},"x2":{"datum":1},"y":{"datum":0}}},
   {"data":{"values":[{}]},"mark":{"type":"text","text":"(h)","font":"Liberation Serif","fontSize":14,"fill":"#222"},"encoding":{"x":{"datum":0.22},"y":{"datum":1.82}}},
   {"data":{"values":[{}]},"mark":{"type":"text","text":"Bi-","font":"Liberation Sans","fontSize":16,"align":"right","baseline":"alphabetic","fill":"#111"},"encoding":{"x":{"datum":0.7},"y":{"datum":0.04}}},
   {"data":{"values":[{}]},"mark":{"type":"text","text":"pz","font":"Liberation Sans","fontSize":16,"fontStyle":"italic","align":"left","baseline":"alphabetic","fill":"#111"},"encoding":{"x":{"datum":0.7},"y":{"datum":0.04}}},
   {"data":{"values":[{}]},"mark":{"type":"text","text":"Bi(111)-BL/","font":"Liberation Serif","fontSize":17,"align":"left","baseline":"middle","fill":"#111"},"encoding":{"x":{"datum":1.033},"y":{"datum":0.47}}},
   {"data":{"values":[{}]},"mark":{"type":"text","text":"α-In₂Se₃-BL","font":"Liberation Serif","fontSize":17,"align":"left","baseline":"middle","fill":"#111"},"encoding":{"x":{"datum":1.033},"y":{"datum":0.01}}},
   {"data":{"values":[{}]},"mark":{"type":"text","text":"-down","font":"Liberation Serif","fontSize":17,"align":"left","baseline":"middle","fill":"#111"},"encoding":{"x":{"datum":1.033},"y":{"datum":-0.41}}}
  ]}
]
}
